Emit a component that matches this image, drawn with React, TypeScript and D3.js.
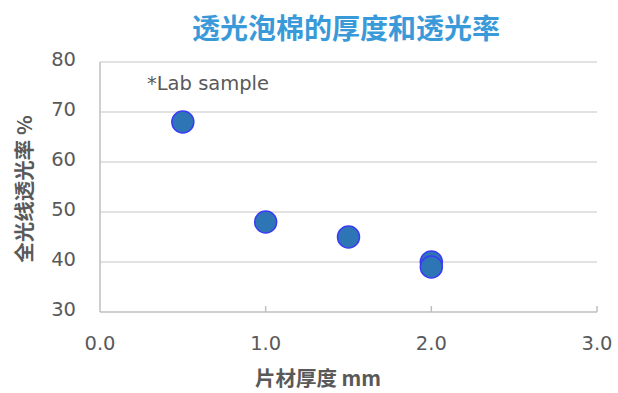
import React from "react";
import * as d3 from "d3";

const thickness = [0.5, 1.0, 1.5, 2.0, 2.0];
const transmittance = [68, 48, 45, 40, 39];
const xTicks = [0, 1, 2, 3];
const yTicks = [30, 40, 50, 60, 70, 80];
const title = "透光泡棉的厚度和透光率";
const xTitle = "片材厚度 mm";
const yTitle = "全光线透光率 %";
const note = "*Lab sample";

const W = 618, H = 393;
const left = 100, right = 597, top = 62, bottom = 312;
const FONT = "'DejaVu Sans', Verdana, 'Noto Sans CJK SC', sans-serif";
const CJK = "'Noto Sans CJK SC', 'DejaVu Sans', sans-serif";

export default function App() {
  const x = d3.scaleLinear().domain([0, 3]).range([left, right]);
  const y = d3.scaleLinear().domain([30, 80]).range([bottom, top]);
  const pts = thickness.map((t, i) => ({ t, v: transmittance[i] }));
  return (
    <svg width={W} height={H} style={{ position: "absolute", left: 0, top: 0, background: "#fff" }}>
      <text x={346} y={39} textAnchor="middle" fontFamily={CJK} fontWeight="bold" fontSize={28} fill="#3A9AD9">{title}</text>
      {yTicks.map((v) => v !== 30 && (
        <line key={"g" + v} x1={left} x2={right} y1={y(v)} y2={y(v)} stroke="#d9d9d9" strokeWidth={1.5} />
      ))}
      <line x1={left} x2={left} y1={top} y2={bottom} stroke="#bfbfbf" strokeWidth={1.5} />
      <line x1={left} x2={right} y1={bottom} y2={bottom} stroke="#bfbfbf" strokeWidth={1.5} />
      {xTicks.map((v) => v !== 0 && (
        <line key={"t" + v} x1={x(v)} x2={x(v)} y1={bottom} y2={bottom - 6} stroke="#bfbfbf" strokeWidth={1.5} />
      ))}
      {yTicks.map((v) => (
        <text key={"yl" + v} x={76} y={y(v) + 4} textAnchor="end" fontFamily={FONT} fontSize={19.5} fill="#595959">{v}</text>
      ))}
      {xTicks.map((v) => (
        <text key={"xl" + v} x={x(v)} y={350} textAnchor="middle" fontFamily={FONT} fontSize={19.5} fill="#595959">{v.toFixed(1)}</text>
      ))}
      <text x={147} y={90} fontFamily={FONT} fontSize={19.5} fill="#595959">{note}</text>
      <text x={318} y={386} textAnchor="middle" fontFamily={CJK} fontWeight="bold" fontSize={20.5} fill="#595959">{xTitle}</text>
      <text transform={`translate(32,${189}) rotate(-90)`} textAnchor="middle" fontFamily={CJK} fontWeight="bold" fontSize={20.5} fill="#595959">{yTitle}</text>
      {pts.map((p, i) => (
        <circle key={i} cx={x(p.t)} cy={y(p.v)} r={11} fill="#2E75B6" stroke="#3B3BF5" strokeWidth={1.5} />
      ))}
    </svg>
  );
}
